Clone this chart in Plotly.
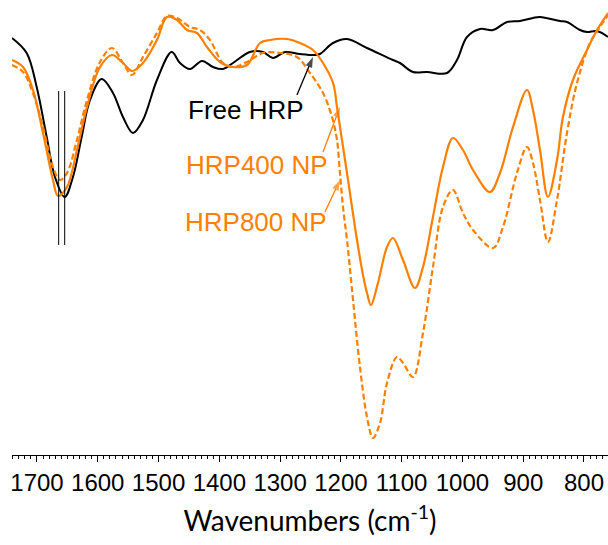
import plotly.graph_objects as go

# ---- data (wavenumber in cm^-1, signal in arbitrary units) ----
free_wn = [1741.1, 1717, 1700.5, 1684, 1670.4, 1654.4, 1640.8, 1626.5, 1612.8, 1593.5,
           1575, 1558.5, 1542, 1525.6, 1502.6, 1478.4, 1464.7, 1448.3, 1428.5, 1410.4,
           1394, 1377.5, 1349.5, 1328.2, 1311.7, 1292, 1267.3, 1242.6, 1234.4, 1212.9,
           1189.9, 1157, 1114.3, 1102.8, 1081.4, 1058.3, 1025.4, 1009, 992.5, 971.1,
           949.7, 926.7, 905.3, 883.9, 872.4, 839.5, 828, 806.6, 795.1, 778.6, 760.5]
free_val = [417, 402, 368, 318, 278, 258, 278, 318, 355, 376,
            362, 338, 322, 335, 375, 403, 392, 386, 394, 388,
            386, 392, 403, 403, 397, 403, 401, 400, 401, 412,
            416, 407, 395, 392, 383, 383, 382, 395, 418, 426,
            425, 433, 434, 437, 438, 434, 433, 425, 423, 424, 418]

np400_wn = [1741.1, 1723, 1706.6, 1690.1, 1673.7, 1665.4, 1650.6, 1634.2, 1617.7, 1596.3,
            1576.6, 1558.5, 1543.7, 1525.6, 1502.6, 1486.1, 1469.7, 1453.2, 1436.8, 1420.3,
            1398.9, 1377.5, 1354.5, 1333.1, 1316.6, 1288.7, 1267.3, 1245.9, 1229.4, 1212.9,
            1206.4, 1198.2, 1189.9, 1181.7, 1173.5, 1163.6, 1157, 1150.5, 1139, 1124.1,
            1114.3, 1097.8, 1078.1, 1064.9, 1048.5, 1032, 1015.6, 999.1, 982.6, 954.7,
            938.2, 916.8, 893.8, 883.9, 872.4, 859.3, 844.4, 834.6, 818.2, 795.1,
            778.6, 760.5]
np400_val = [395, 388, 365, 322, 275, 259, 268, 305, 348, 388,
             400, 392, 384, 392, 415, 438, 435, 425, 422, 408,
             393, 388, 390, 412, 415, 416, 412, 405, 392, 372,
             348, 315, 282, 248, 215, 180, 162, 150, 172, 208,
             217, 195, 167, 188, 238, 288, 317, 305, 285, 263,
             282, 328, 365, 345, 305, 258, 295, 338, 375, 405,
             425, 442]

np800_wn = [1741.1, 1723, 1706.6, 1690.1, 1673.7, 1662.2, 1650.6, 1634.2, 1617.7, 1596.3,
            1576.6, 1558.5, 1543.7, 1525.6, 1502.6, 1486.1, 1469.7, 1448.3, 1431.8, 1415.4,
            1394, 1377.5, 1354.5, 1328.2, 1300.2, 1272.3, 1250.8, 1229.4, 1214.6, 1206.4,
            1201.5, 1196.5, 1189.9, 1180, 1168.6, 1157, 1147.2, 1135.6, 1124.1, 1107.7,
            1097.8, 1081.4, 1064.9, 1048.5, 1032, 1015.6, 999.1, 982.6, 949.7, 933.3,
            910.3, 893.8, 883.9, 872.4, 859.3, 844.4, 828, 811.5, 790.2, 773.7, 760.5]
np800_val = [390, 383, 362, 328, 288, 275, 282, 315, 355, 393,
             407, 392, 380, 398, 422, 439, 437, 428, 425, 415,
             392, 388, 393, 402, 402, 398, 382, 362, 338, 315,
             282, 248, 215, 155, 88, 38, 17, 32, 72, 98,
             92, 78, 122, 188, 248, 265, 242, 225, 207, 228,
             282, 308, 292, 255, 213, 255, 322, 372, 412, 428, 440]

peak_marks = [1664.3, 1654.4]
tick_vals = [1700, 1600, 1500, 1400, 1300, 1200, 1100, 1000, 900, 800]
tick_text = [str(v) for v in tick_vals]

ORANGE = "#FF7F00"

fig = go.Figure()
fig.add_trace(go.Scatter(x=free_wn, y=free_val, mode="lines", name="Free HRP",
                         line=dict(color="black", width=2, shape="spline", smoothing=1.0)))
fig.add_trace(go.Scatter(x=np800_wn, y=np800_val, mode="lines", name="HRP800 NP",
                         line=dict(color=ORANGE, width=2.2, dash="6px,3px", shape="spline", smoothing=1.0)))
fig.add_trace(go.Scatter(x=np400_wn, y=np400_val, mode="lines", name="HRP400 NP",
                         line=dict(color=ORANGE, width=2.2, shape="spline", smoothing=1.0)))

for xv in peak_marks:
    fig.add_shape(type="line", x0=xv, x1=xv, y0=210, y1=364, xref="x", yref="y",
                  line=dict(color="black", width=1))

labels = [("Free HRP", "black", 1356, 345), ("HRP400 NP", ORANGE, 1338, 290),
          ("HRP800 NP", ORANGE, 1339.7, 233)]
for txt, col, lx, ly in labels:
    fig.add_annotation(x=lx, y=ly, text=txt, showarrow=False, xref="x", yref="y",
                       font=dict(family="Liberation Sans, Arial", size=26, color=col))

# pointer arrows: (colour, tail x, tail y, head x, head y)
arrows = [("black", 1272.3, 360, 1245.9, 398), (ORANGE, 1229.4, 303, 1201.5, 348),
          (ORANGE, 1226.2, 243, 1201.5, 275)]
for col, tx, ty, hx, hy in arrows:
    fig.add_trace(go.Scatter(x=[tx, hx], y=[ty, hy], mode="lines+markers",
                             line=dict(color=col, width=1.3),
                             marker=dict(symbol="arrow", size=[0, 11], color=col,
                                         angleref="previous", line=dict(width=0)),
                             hoverinfo="skip", showlegend=False))

fig.update_layout(
    width=608, height=545,
    margin=dict(l=12, r=0, t=0, b=90),
    paper_bgcolor="white", plot_bgcolor="white",
    showlegend=False,
    xaxis=dict(range=[1741.1, 760.5], showgrid=False, zeroline=False,
               showline=True, linecolor="black", linewidth=1,
               ticks="outside", ticklen=6, tickwidth=1, tickcolor="black",
               tickvals=tick_vals, ticktext=tick_text,
               minor=dict(dtick=10, tick0=800, ticks="outside", ticklen=3, tickcolor="black"),
               tickfont=dict(family="Liberation Sans, Arial", size=24, color="black"),
               title=dict(text="Wavenumbers (cm<sup>-1</sup>)",
                          font=dict(family="Lato", size=28, color="black"), standoff=16)),
    yaxis=dict(range=[0, 455], visible=False, fixedrange=True),
)

fig.write_html("out.html")
